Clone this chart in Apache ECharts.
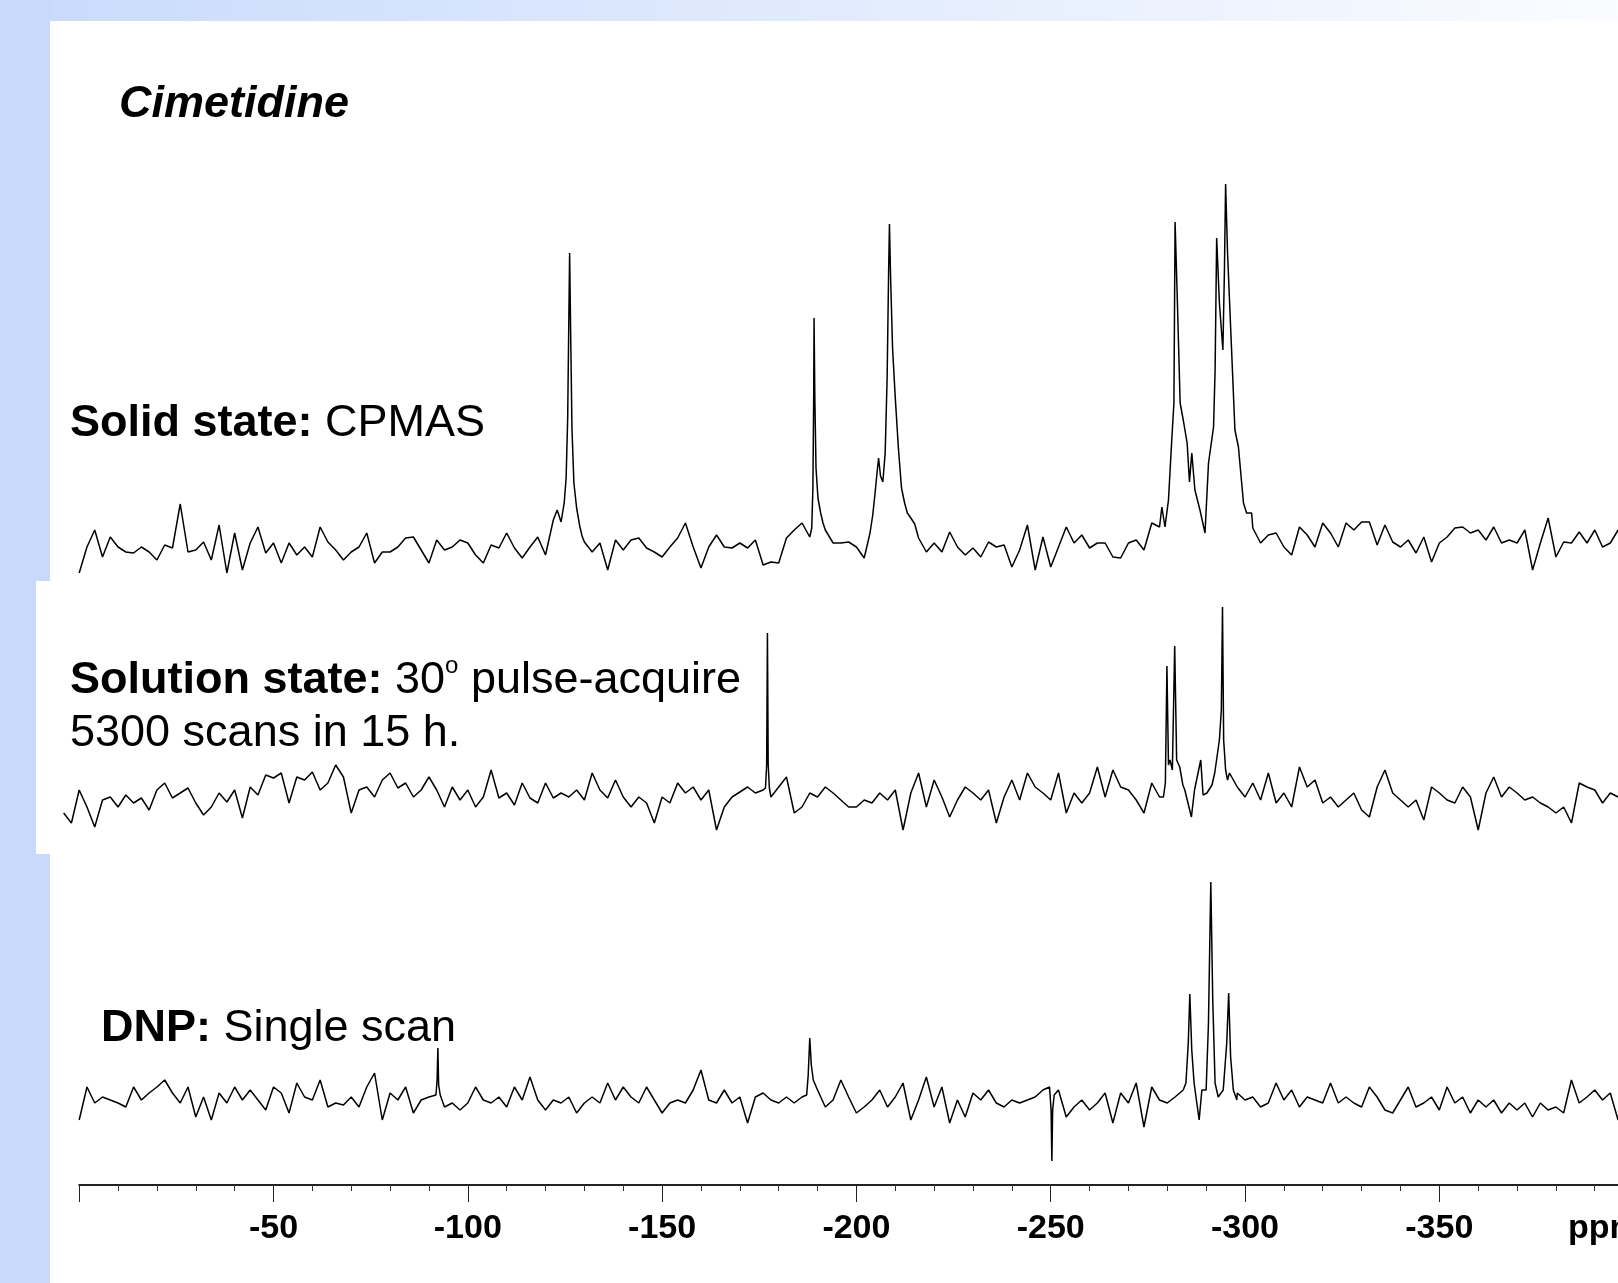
<!DOCTYPE html>
<html>
<head>
<meta charset="utf-8">
<title>Cimetidine</title>
<script src="https://cdn.jsdelivr.net/npm/echarts@6/dist/echarts.min.js"></script>
<style>
  html, body { margin: 0; padding: 0; background: #fff; }
  #chart { width: 1618px; height: 1283px; }
</style>
</head>
<body>
<div id="chart"></div>
<script>
// noise is read every 2 ppm, null where a peak segment below takes over
var STEP = -2;

var solidStart = 0;
var solidNoise = [
  -25, 1, 18, -9, 11, 1, -4, -5, 1, -4,
  -12, 3, 0, 44, -4, -2, 6, -12, 23, -25,
  15, -22, 5, 21, -5, 5, -15, 5, -7, 1,
  -9, 21, 6, -2, -12, -4, 1, 15, -15, -4,
  -4, 1, 10, 11, -2, -15, 8, -2, 1, 8,
  5, -7, -15, 3, 0, 15, 0, -10, 1, 11,
  -7, 28, null, null, null, 6, -4, 5, -22, 8,
  -2, 8, 10, 0, -4, -9, 1, 10, 25, 1,
  -20, 1, 13, 1, 0, 5, 0, 8, -17, -14,
  -15, 10, 18, 25, 11, null, 18, 5, 5, 6,
  1, -10, null, null, null, null, null, null, 10, -4,
  5, -4, 16, 1, -7, 0, -9, 6, 1, 3,
  -19, -2, 23, -22, 11, -19, 1, 21, 5, 13,
  0, 5, 5, -9, -10, 5, 8, -2, 25, 21,
  null, null, null, null, null, null, null, null, null, null,
  null, 20, 5, 13, 15, 1, -7, 21, 13, 1,
  25, 15, 1, 25, 18, 26, 26, 3, 23, 6,
  1, 8, -5, 11, -14, 5, 11, 20, 21, 15,
  18, 8, 21, 5, 8, 5, 18, -22, 5, 30,
  -9, 6, 5, 16, 5, 18, 1, 5, 18
];
var solidPeaks = [
  [[-123, 38], [-124, 26], [-124.8, 45], [-125.3, 70], [-125.7, 130], [-126.0, 230], [-126.2, 295],
   [-126.45, 220], [-126.8, 120], [-127.3, 65], [-128, 40], [-128.8, 22], [-129.4, 12]],
  [[-188.5, 20], [-188.8, 60], [-189.0, 150], [-189.1, 230], [-189.3, 150], [-189.6, 80],
   [-190.1, 50], [-190.8, 35], [-191.4, 25]],
  [[-203.5, 15], [-204.2, 33], [-204.8, 55], [-205.3, 75], [-205.7, 90], [-206.2, 72], [-206.8, 66],
   [-207.4, 95], [-207.9, 170], [-208.3, 280], [-208.5, 324], [-208.8, 270], [-209.3, 200], [-210, 150],
   [-210.8, 100], [-211.6, 60], [-212.4, 45], [-213.1, 35], [-214, 30], [-215, 24]],
  [[-278.6, 41], [-279.4, 21], [-280.3, 48], [-281.1, 105], [-281.7, 145], [-282.0, 326], [-282.6, 245],
   [-283.3, 145], [-284.1, 128], [-285.1, 105], [-285.7, 66], [-286.3, 95], [-287.1, 58], [-288.4, 38],
   [-289.7, 15], [-290.6, 85], [-291.9, 121], [-292.3, 178], [-292.7, 310], [-293.4, 245], [-294.3, 198],
   [-294.7, 278], [-295.0, 364], [-295.5, 295], [-296.4, 211], [-297.4, 118], [-298.3, 101], [-299.6, 45],
   [-300.4, 35], [-301.7, 35]]
];

var solutionStart = 4;
var solutionNoise = [
  -13, -23, 10, -7, -27, 0, 3, -7, 5, -3,
  2, -10, 10, 17, 2, 7, 12, -3, -15, -7,
  7, -2, 10, -18, 13, 5, 25, 22, 27, -3,
  23, 20, 28, 10, 17, 35, 23, -13, 10, 13,
  3, 20, 27, 12, 17, 3, 10, 23, 10, -7,
  13, 0, 10, -7, 3, 30, 2, 7, -5, 17,
  2, -3, 17, 2, 7, 3, 10, 0, 27, 10,
  2, 20, 3, -7, 3, -3, -23, 3, -3, 17,
  7, 13, 0, 10, -30, -7, 3, 8, 13, 7,
  10, 3, 13, 23, -13, -7, 7, 3, 13, 7,
  0, -7, -7, 0, -3, 7, 0, 10, -30, 7,
  27, -7, 20, 3, -17, 0, 13, 7, 0, 10,
  -23, 3, 20, 0, 27, 13, 7, 0, 27, -13,
  7, -3, 7, 33, 3, 30, 13, 10, 0, -13,
  17, 3, null, null, null, null, null, null, null, null,
  27, 13, 3, 17, 0, 27, -3, 7, -7, 33,
  13, 20, -3, 3, -7, 0, 7, -10, -17, 13,
  30, 7, 0, -7, 0, -20, 13, 7, 0, -3,
  13, 3, -30, 7, 23, 3, 13, 7, 0, 3,
  -3, -7, -13, -7, -23, 17, 13, 10, -3, 7,
  3
];
var solutionPeaks = [
  [[-176.6, 12], [-176.9, 35], [-177.1, 167], [-177.3, 35], [-177.6, 12]],
  [[-279.0, 3], [-279.5, 17], [-279.9, 134], [-280.3, 35], [-280.7, 40], [-281.3, 30], [-281.9, 154],
   [-282.4, 40], [-283.2, 33], [-284, 15], [-284.5, 10], [-286.2, -17], [-287, 10], [-288.6, 40],
   [-289.2, 5], [-290.2, 7], [-291.5, 15], [-292.2, 27], [-293.4, 60], [-293.9, 90], [-294.2, 193],
   [-294.5, 60], [-295, 30], [-295.5, 20]]
];

var dnpStart = 0;
var dnpNoise = [
  -20, 13, -3, 3, 0, -3, -7, 13, 0, 7,
  13, 20, 7, -3, 13, -17, 3, -20, 7, -3,
  13, 0, 10, 0, -10, 13, 7, -13, 17, 3,
  0, 20, -7, -3, -5, 3, -7, 13, 27, -20,
  7, 0, 13, -13, 0, 3, null, -7, -3, -10,
  -3, 13, 0, -3, 3, -7, 13, 0, 23, 0,
  -10, 0, -3, 3, -13, -3, 3, -3, 17, 0,
  13, 3, -3, 13, 0, -13, -3, 0, -3, 10,
  30, 0, -3, 10, -3, 3, -23, 3, 7, 0,
  -3, 3, -3, 3, null, 10, -7, 0, 20, 3,
  -13, -7, 0, 10, -7, 3, 17, -20, 0, 23,
  -7, 13, -23, 0, -17, 7, 0, 10, -3, -7,
  0, -3, 0, 3, 10, null, 10, -17, -7, 0,
  -10, -3, 7, -23, 7, -3, 17, -27, 13, 0,
  -3, 3, null, null, null, null, null, null, null, 7,
  0, 3, -7, -3, 17, 0, 10, -7, 3, 0,
  -3, 17, -3, 3, -3, -7, 13, 3, -10, -13,
  0, 13, -7, -3, 3, -10, 13, -3, 3, -13,
  0, -7, 0, -13, -3, -10, -3, -17, -3, -10,
  -7, -13, 20, -3, 3, 10, 0, 7, -20
];
var dnpPeaks = [
  [[-91.8, 5], [-92.1, 20], [-92.3, 52], [-92.5, 15], [-92.9, 5]],
  [[-187.2, 5], [-187.6, 25], [-188.0, 62], [-188.4, 35], [-188.9, 20]],
  [[-249.7, 13], [-250.1, -10], [-250.3, -61], [-250.5, -10], [-250.9, 5]],
  [[-284.1, 10], [-284.8, 17], [-285.4, 57], [-285.8, 106], [-286.3, 50], [-286.9, 17], [-287.6, -3],
   [-288.2, -20], [-288.9, 10], [-290.0, 10], [-290.6, 77], [-291.2, 218], [-291.7, 100], [-292.3, 17],
   [-293.1, 3], [-294.4, 10], [-295.3, 57], [-295.8, 107], [-296.3, 43], [-297.0, 10], [-297.9, 0]]
];

var tickLabelsHidden = [0, -400];

function buildTrace(start, noise, peaks) {
  var pts = [];
  noise.forEach(function (v, i) {
    if (v !== null) pts.push([start + i * STEP, v]);
  });
  peaks.forEach(function (seg) {
    seg.forEach(function (p) { pts.push(p); });
  });
  pts.sort(function (a, b) { return b[0] - a[0]; });
  return pts;
}

var FONT = 'Liberation Sans, Arial, Helvetica, sans-serif';
var chart = echarts.init(document.getElementById('chart'));

function traceSeries(idx, data) {
  return {
    type: 'line',
    xAxisIndex: idx,
    yAxisIndex: idx,
    data: data,
    showSymbol: false,
    symbol: 'none',
    silent: true,
    lineStyle: { color: '#000', width: 1.5 }
  };
}

var hiddenX = { type: 'value', min: -400, max: 4, inverse: true, show: false };

var option = {
  backgroundColor: '#fff',
  animation: false,
  grid: [
    { left: 63.65, width: 1570, top: 148, height: 450, outerBoundsMode: 'none' },
    { left: 63.65, width: 1570, top: 580, height: 270, outerBoundsMode: 'none' },
    { left: 79.2, width: 1554.4, top: 870, height: 315, outerBoundsMode: 'none' }
  ],
  xAxis: [
    Object.assign({ gridIndex: 0 }, hiddenX),
    Object.assign({ gridIndex: 1 }, hiddenX),
    {
      gridIndex: 2,
      type: 'value',
      min: -400,
      max: 0,
      inverse: true,
      interval: 50,
      axisLine: { show: true, onZero: false, lineStyle: { color: '#222', width: 2 } },
      axisTick: { show: true, length: 17, lineStyle: { color: '#222', width: 1 } },
      minorTick: { show: true, splitNumber: 5, length: 6, lineStyle: { color: '#333', width: 1 } },
      splitLine: { show: false },
      minorSplitLine: { show: false },
      axisLabel: {
        margin: 27,
        fontSize: 34,
        fontWeight: 'bold',
        fontFamily: FONT,
        color: '#000',
        formatter: function (v) {
          return tickLabelsHidden.indexOf(v) >= 0 ? '' : String(v);
        }
      }
    }
  ],
  yAxis: [
    { gridIndex: 0, type: 'value', min: -50, max: 400, show: false },
    { gridIndex: 1, type: 'value', min: -50, max: 220, show: false },
    { gridIndex: 2, type: 'value', min: -85, max: 230, show: false }
  ],
  graphic: [
    // slide background
    { type: 'rect', shape: { x: 0, y: 0, width: 1618, height: 21 }, silent: true,
      style: { fill: new echarts.graphic.LinearGradient(0, 0, 1, 0, [
        { offset: 0, color: '#c8dafc' }, { offset: 1, color: '#fafcff' }]) } },
    { type: 'rect', shape: { x: 0, y: 0, width: 50, height: 1283 }, silent: true, style: { fill: '#c8dafc' } },
    { type: 'rect', shape: { x: 50, y: 21, width: 1568, height: 1262 }, silent: true, style: { fill: '#fff' } },
    { type: 'rect', shape: { x: 36, y: 581, width: 20, height: 273 }, silent: true, style: { fill: '#fff' } },
    {
      type: 'text', x: 119, y: 78, silent: true,
      style: {
        text: 'Cimetidine', fontSize: 45, fontWeight: 'bold', fontStyle: 'italic',
        fontFamily: FONT, fill: '#000', verticalAlign: 'top', lineHeight: 53
      }
    },
    {
      type: 'text', x: 70, y: 397, silent: true,
      style: {
        text: '{b|Solid state:} {r|CPMAS}', fontSize: 45, fontFamily: FONT, fill: '#000',
        verticalAlign: 'top', lineHeight: 53,
        rich: {
          b: { fontSize: 45, fontWeight: 'bold', fontFamily: FONT, lineHeight: 53 },
          r: { fontSize: 45, fontFamily: FONT, lineHeight: 53 }
        }
      }
    },
    {
      type: 'text', x: 70, y: 654, silent: true,
      style: {
        text: '{b|Solution state:} {r|30}{s|o}{r| pulse-acquire}\n{r|5300 scans in 15 h.}',
        fontSize: 45, fontFamily: FONT, fill: '#000', verticalAlign: 'top', lineHeight: 53,
        rich: {
          b: { fontSize: 45, fontWeight: 'bold', fontFamily: FONT, lineHeight: 53 },
          r: { fontSize: 45, fontFamily: FONT, lineHeight: 53 },
          s: { fontSize: 24, fontFamily: FONT, verticalAlign: 'top' }
        }
      }
    },
    {
      type: 'text', x: 101, y: 1002, silent: true,
      style: {
        text: '{b|DNP:} {r|Single scan}', fontSize: 45, fontFamily: FONT, fill: '#000',
        verticalAlign: 'top', lineHeight: 53,
        rich: {
          b: { fontSize: 45, fontWeight: 'bold', fontFamily: FONT, lineHeight: 53 },
          r: { fontSize: 45, fontFamily: FONT, lineHeight: 53 }
        }
      }
    },
    {
      type: 'text', x: 1568, y: 1212, silent: true,
      style: { text: 'ppm', fontSize: 34, fontWeight: 'bold', fontFamily: FONT, fill: '#000', verticalAlign: 'top' }
    }
  ],
  series: [
    traceSeries(0, buildTrace(solidStart, solidNoise, solidPeaks)),
    traceSeries(1, buildTrace(solutionStart, solutionNoise, solutionPeaks)),
    traceSeries(2, buildTrace(dnpStart, dnpNoise, dnpPeaks))
  ]
};

chart.setOption(option);
</script>
</body>
</html>
